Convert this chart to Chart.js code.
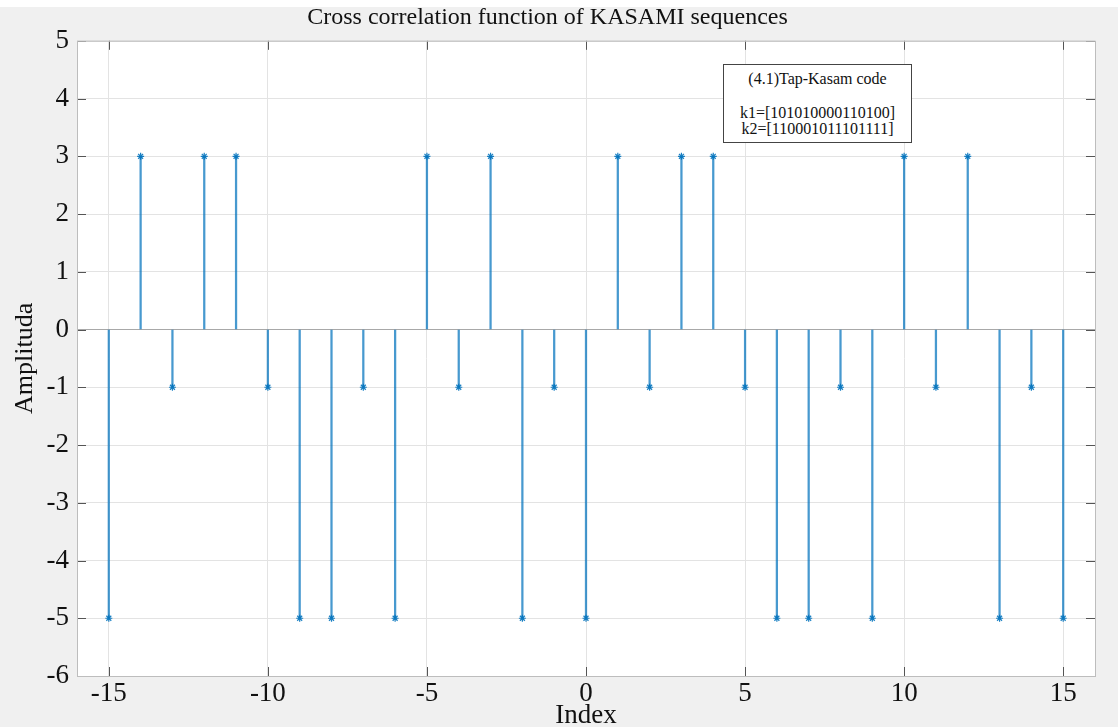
<!DOCTYPE html>
<html>
<head>
<meta charset="utf-8">
<script src="https://cdn.jsdelivr.net/npm/chart.js@4"></script>
<style>
  html, body { margin: 0; padding: 0; background: #f0f0f0; }
  #wrap { position: relative; width: 1118px; height: 727px; }
  #legend {
    position: absolute; left: 723px; top: 64px; width: 189px; height: 79px;
    border: 1px solid #444; background: #fff; box-sizing: border-box;
    font-family: 'Liberation Serif', 'Times New Roman', serif; font-size: 16px;
    color: #111; text-align: center; line-height: 16px;
  }
</style>
</head>
<body>
<div id="wrap">
  <canvas id="grafica" width="1118" height="727"></canvas>
  <div id="legend">
    <div style="margin-top:6px">(4.1)Tap-Kasam code</div>
    <div style="margin-top:18px">k1=[101010000110100]</div>
    <div>k2=[110001011101111]</div>
  </div>
</div>
<script>
// datos de la correlacion cruzada
const indices = [-15, -14, -13, -12, -11, -10, -9, -8, -7, -6, -5, -4, -3, -2, -1, 0,
                 1, 2, 3, 4, 5, 6, 7, 8, 9, 10, 11, 12, 13, 14, 15];
const amplitudes = [-5, 3, -1, 3, 3, -1, -5, -5, -1, -5, 3, -1, 3, -5, -1, -5,
                    3, -1, 3, 3, -1, -5, -5, -1, -5, 3, -1, 3, -5, -1, -5];
const xTicks = [-15, -10, -5, 0, 5, 10, 15];
const yTicks = [-6, -5, -4, -3, -2, -1, 0, 1, 2, 3, 4, 5];

const serif = "'Liberation Serif', 'Times New Roman', serif";
const azul = 'rgba(0, 114, 189, 0.72)';

const puntos = indices.map((x, i) => ({ x: x, y: amplitudes[i] }));

// fondo gris + area blanca + ticks hacia dentro
const fondo = {
  id: 'fondo',
  beforeDraw(chart) {
    const { ctx, chartArea: a } = chart;
    ctx.save();
    ctx.fillStyle = '#f0f0f0';
    ctx.fillRect(0, 0, chart.width, chart.height);
    ctx.fillStyle = '#ffffff';
    ctx.fillRect(0, 0, chart.width, 7);
    ctx.fillRect(a.left, a.top, a.right - a.left, a.bottom - a.top);
    ctx.restore();
  },
  afterDraw(chart) {
    const { ctx, chartArea: a, scales } = chart;
    ctx.save();
    ctx.strokeStyle = '#555';
    ctx.lineWidth = 1;
    ctx.beginPath();
    xTicks.forEach(v => {
      const px = Math.round(scales.x.getPixelForValue(v)) + 0.5;
      ctx.moveTo(px, a.bottom); ctx.lineTo(px, a.bottom - 9);
      ctx.moveTo(px, a.top); ctx.lineTo(px, a.top + 9);
    });
    yTicks.forEach(v => {
      const py = Math.round(scales.y.getPixelForValue(v)) + 0.5;
      ctx.moveTo(a.left, py); ctx.lineTo(a.left + 9, py);
      ctx.moveTo(a.right, py); ctx.lineTo(a.right - 9, py);
    });
    ctx.stroke();
    ctx.strokeStyle = '#bdbdbd';
    ctx.strokeRect(a.left + 0.5, a.top + 0.5, a.right - a.left, a.bottom - a.top);
    ctx.restore();
  }
};

new Chart(document.getElementById('grafica'), {
  type: 'bar',
  data: {
    datasets: [
      {
        type: 'bar',
        data: puntos,
        backgroundColor: azul,
        borderWidth: 0,
        barThickness: 1.6,
        order: 2
      },
      {
        type: 'scatter',
        data: puntos,
        pointStyle: 'star',
        radius: 3.5,
        borderColor: 'rgba(0, 114, 189, 0.9)',
        borderWidth: 1.2,
        backgroundColor: 'rgba(0, 114, 189, 0.9)',
        order: 1
      }
    ]
  },
  options: {
    responsive: false,
    animation: false,
    layout: { padding: { left: 0, right: 23, top: 0, bottom: 0 } },
    plugins: {
      legend: { display: false },
      tooltip: { enabled: false },
      title: {
        display: true,
        text: 'Cross correlation function of KASAMI sequences',
        color: '#111',
        font: { family: serif, size: 24, weight: 'normal' },
        padding: { top: 3, bottom: 9 }
      }
    },
    scales: {
      x: {
        type: 'linear',
        min: -16,
        max: 16,
        offset: false,
        afterBuildTicks(s) { s.ticks = xTicks.map(v => ({ value: v })); },
        afterFit(s) { s.height = 51; },
        grid: { color: '#e3e3e3', drawTicks: false, offset: false },
        border: { display: false },
        ticks: {
          color: '#111', padding: 2,
          font: { family: serif, size: 27 },
          maxRotation: 0
        },
        title: {
          display: true, text: 'Index', color: '#111',
          font: { family: serif, size: 27, lineHeight: 0.85 },
          padding: { top: 0, bottom: 0 }
        }
      },
      y: {
        type: 'linear',
        min: -6,
        max: 5,
        afterBuildTicks(s) { s.ticks = yTicks.map(v => ({ value: v })); },
        afterFit(s) { s.width = 77; },
        grid: {
          drawTicks: false,
          color: ctx => ctx.tick && ctx.tick.value === 0 ? '#a8a8a8' : '#e3e3e3'
        },
        border: { display: false },
        ticks: {
          color: '#111', padding: 8,
          font: { family: serif, size: 27 }
        },
        title: {
          display: true, text: 'Amplituda', color: '#111',
          font: { family: serif, size: 26 },
          padding: { top: 10, bottom: 0 }
        }
      }
    }
  },
  plugins: [fondo]
});
</script>
</body>
</html>
